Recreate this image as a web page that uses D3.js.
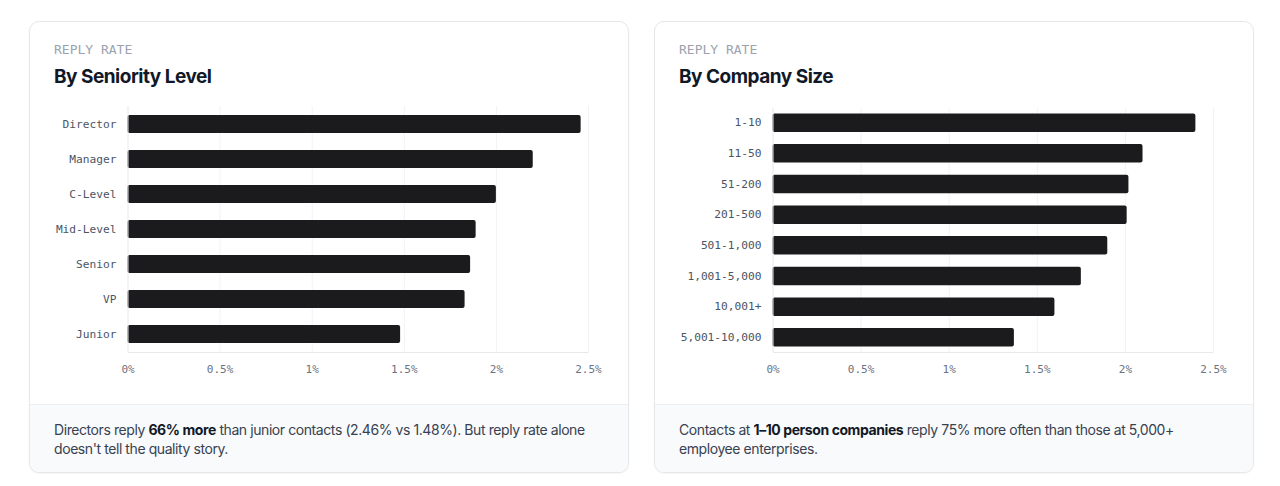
<!DOCTYPE html>
<html>
<head>
<meta charset="utf-8">
<script src="https://cdn.jsdelivr.net/npm/d3@7"></script>
<style>
	html, body { margin: 0; padding: 0; background: #fff; }
	body { width: 1280px; height: 486px; position: relative; overflow: hidden; font-family: Inter, "Noto Sans", sans-serif; }
	.card { position: absolute; top: 21px; width: 598px; height: 450px; border: 1px solid #e5e7eb; border-radius: 10px; background: #fff; overflow: hidden; box-shadow: 0 1px 2px rgba(0,0,0,0.04); }
	.eyebrow { position: absolute; left: 24px; top: 20px; font: 13px "DejaVu Sans Mono", monospace; letter-spacing: 0; color: #9ca3af; }
	.title { position: absolute; left: 24px; top: 43px; font-size: 19px; font-weight: 700; color: #111827; letter-spacing: -0.5px; }
	.foot { position: absolute; left: 0; right: 0; bottom: 0; height: 67px; background: #f9fafb; border-top: 1px solid #eceef1; }
	.foot p { margin: 0; padding: 14.5px 24px 0 24px; font-size: 14px; line-height: 19px; color: #374151; letter-spacing: -0.42px; white-space: nowrap; }
	.foot b { color: #111827; font-weight: 700; }
	#charts { position: absolute; left: 0; top: 0; }
</style>
</head>
<body>
<div class="card" style="left:29px">
	<div class="eyebrow">REPLY RATE</div>
	<div class="title">By Seniority Level</div>
	<div class="foot"><p>Directors reply <b>66% more</b> than junior contacts (2.46% vs 1.48%). But reply rate alone<br>doesn't tell the quality story.</p></div>
</div>
<div class="card" style="left:654px">
	<div class="eyebrow">REPLY RATE</div>
	<div class="title">By Company Size</div>
	<div class="foot"><p>Contacts at <b>1–10 person companies</b> reply 75% more often than those at 5,000+<br>employee enterprises.</p></div>
</div>
<svg id="charts" width="1280" height="486"></svg>
<script>
// values (reply rate, %)
var seniorityLevels = ["Director", "Manager", "C-Level", "Mid-Level", "Senior", "VP", "Junior"];
var seniorityRates  = [2.46, 2.20, 2.00, 1.89, 1.86, 1.83, 1.48];

var companySizes = ["1-10", "11-50", "51-200", "201-500", "501-1,000", "1,001-5,000", "10,001+", "5,001-10,000"];
var companyRates = [2.40, 2.10, 2.02, 2.01, 1.90, 1.75, 1.60, 1.37];

var tickValues = [0, 0.5, 1, 1.5, 2, 2.5];
var tickLabels = ["0%", "0.5%", "1%", "1.5%", "2%", "2.5%"];

var MONO = "'DejaVu Sans Mono', monospace";

function BarChart(svg, opts) {
	var _g = svg.append("g");
	var _x = d3.scaleLinear().domain([0, 2.5]).range([opts.left, opts.right]);
	var _y = d3.scaleBand().domain(opts.categories).range([opts.top, opts.bottom])
		.paddingInner(opts.inner).paddingOuter(opts.outer);

	// vertical grid
	_g.append("g").selectAll("line").data(tickValues.slice(1))
		.enter().append("line")
		.attr("x1", function(d){ return _x(d) + 0.5; })
		.attr("x2", function(d){ return _x(d) + 0.5; })
		.attr("y1", opts.top)
		.attr("y2", opts.bottom)
		.attr("stroke", "#f1f2f4");

	var rows = opts.categories.map(function(c, i){ return {name: c, value: opts.values[i]}; });

	_g.append("g").selectAll("rect").data(rows)
		.enter().append("rect")
		.attr("x", _x(0))
		.attr("y", function(d){ return _y(d.name); })
		.attr("width", function(d){ return _x(d.value) - _x(0); })
		.attr("height", _y.bandwidth())
		.attr("rx", 2)
		.attr("fill", "#1b1b1d");

	// bottom axis
	var xAxis = d3.axisBottom(_x)
		.tickValues(tickValues)
		.tickFormat(function(d, i){ return tickLabels[i]; })
		.tickSize(0)
		.tickPadding(13);
	var gx = _g.append("g").attr("transform", "translate(0," + opts.bottom + ")").call(xAxis);
	gx.select(".domain").attr("stroke", "#e6e8eb");
	gx.selectAll("text").attr("font-family", MONO).attr("font-size", 11).attr("fill", "#6b7280");

	// left axis
	var yAxis = d3.axisLeft(_y).tickSize(0).tickPadding(11);
	var gy = _g.append("g").attr("transform", "translate(" + opts.left + ",0)").call(yAxis);
	gy.select(".domain").attr("stroke", "#e6e8eb").attr("d", "M0.5," + opts.top + "V" + opts.bottom);
	gy.selectAll("text").attr("font-family", MONO).attr("font-size", 11.2).attr("fill", "#4b5563");
}

var svg = d3.select("#charts");
BarChart(svg, {
	categories: seniorityLevels, values: seniorityRates,
	left: 127.5, right: 588, top: 106, bottom: 352, inner: 0.486, outer: 0.257
});
BarChart(svg, {
	categories: companySizes, values: companyRates,
	left: 772.5, right: 1213, top: 108, bottom: 352, inner: 0.397, outer: 0.176
});
</script>
</body>
</html>
